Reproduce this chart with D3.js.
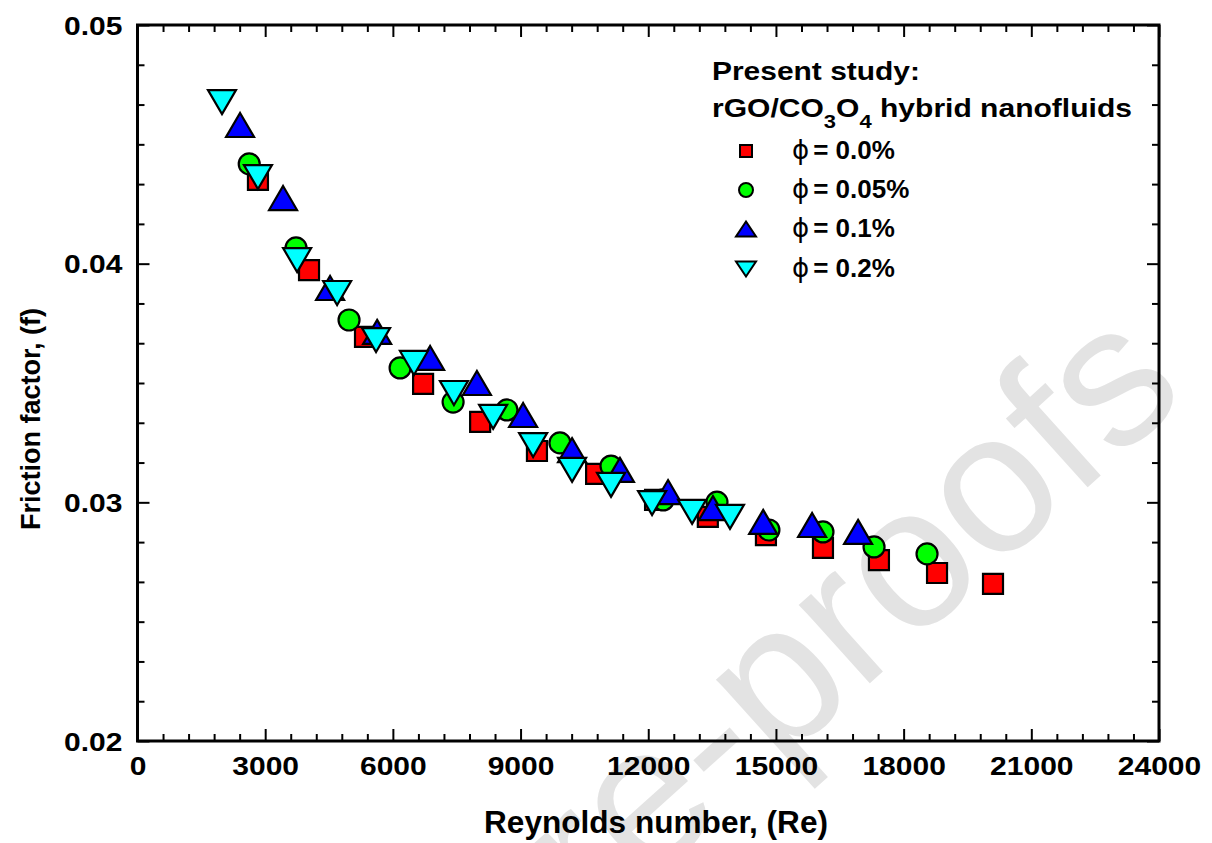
<!DOCTYPE html>
<html>
<head>
<meta charset="utf-8">
<script src="https://cdn.jsdelivr.net/npm/d3@7"></script>
<style>
  html, body { margin: 0; padding: 0; background: #fff; }
  svg { display: block; }
  text { font-family: "Liberation Sans", Arial, sans-serif; font-weight: bold; fill: #000; }
</style>
</head>
<body>
<svg id="chart" width="1212" height="843"></svg>
<script>
// Axis ticks and labels
const xTickValues = [0, 3000, 6000, 9000, 12000, 15000, 18000, 21000, 24000];
const xTickLabels = ["0", "3000", "6000", "9000", "12000", "15000", "18000", "21000", "24000"];
const yTickValues = [0.02, 0.03, 0.04, 0.05];
const yTickLabels = ["0.02", "0.03", "0.04", "0.05"];

// Series: friction factor vs Reynolds number for each volume concentration
const seriesNames = ["0.0%", "0.05%", "0.1%", "0.2%"];
const re000 = [2830, 4030, 5345, 6710, 8050, 9385, 10775, 12160, 13400, 14765, 16105, 17420, 18785, 20100];
const f000  = [0.04351, 0.03973, 0.03693, 0.03496, 0.03337, 0.03215, 0.03119, 0.0301, 0.02939, 0.02863, 0.02809, 0.02758, 0.02704, 0.02658];
const re005 = [2625, 3725, 4970, 6170, 7415, 8680, 9925, 11125, 12350, 13615, 14835, 16105, 17305, 18550];
const f005  = [0.04418, 0.04066, 0.03764, 0.03563, 0.0342, 0.03387, 0.03249, 0.03152, 0.0301, 0.03001, 0.02884, 0.02876, 0.02813, 0.02784];
const re010 = [2410, 3420, 4525, 5630, 6875, 7975, 9060, 10210, 11335, 12465, 13520, 14700, 15850, 16930];
const f010  = [0.04581, 0.04275, 0.03898, 0.03714, 0.03605, 0.035, 0.03366, 0.03219, 0.03136, 0.03043, 0.02976, 0.02918, 0.02905, 0.02876];
const re020 = [1985, 2830, 3750, 4690, 5605, 6495, 7435, 8355, 9295, 10210, 11125, 12090, 13030, 13920];
const f020  = [0.04677, 0.04363, 0.04015, 0.03877, 0.0368, 0.03584, 0.03458, 0.03358, 0.0324, 0.03136, 0.03073, 0.02997, 0.0296, 0.02939];

const seriesRe = [re000, re005, re010, re020];
const seriesF = [f000, f005, f010, f020];
const seriesColors = ["#ff0000", "#00ff00", "#0000ff", "#00ffff"];
const seriesShapes = ["square", "circle", "triangleUp", "triangleDown"];

const svg = d3.select("#chart");
const plot = { left: 137.5, right: 1159, top: 25, bottom: 741 };

const x = d3.scaleLinear().domain([0, 24000]).range([plot.left, plot.right]);
const y = d3.scaleLinear().domain([0.02, 0.05]).range([plot.bottom, plot.top]);

// Faint diagonal watermark behind the chart
svg.append("text")
  .attr("transform", "translate(1190,395) rotate(-42)")
  .attr("text-anchor", "end")
  .style("font-weight", "normal")
  .style("font-size", "200px")
  .style("fill", "#e3e3e3")
  .text("Journal Pre-proofs");

// Marker path builders, each centred on its bounding box
function shapePath(shape, s) {
  if (shape === "square") {
    const h = s.sq / 2;
    return `M${-h},${-h}H${h}V${h}H${-h}Z`;
  }
  if (shape === "circle") {
    const r = s.r;
    return `M${r},0A${r},${r} 0 1,1 ${-r},0A${r},${r} 0 1,1 ${r},0Z`;
  }
  if (shape === "triangleUp") {
    return `M0,${-s.th / 2}L${s.tw / 2},${s.th / 2}L${-s.tw / 2},${s.th / 2}Z`;
  }
  return `M0,${s.th / 2}L${s.tw / 2},${-s.th / 2}L${-s.tw / 2},${-s.th / 2}Z`;
}
const dataSize = { sq: 20, r: 10.5, tw: 28, th: 24 };
const legendSize = { sq: 12, r: 7, tw: 20, th: 15 };

// Minor ticks, pointing inward on all four sides
function minorTicks(axisGen, translate, vals) {
  const g = svg.append("g").attr("transform", translate)
    .call(axisGen.tickValues(vals).tickFormat("").tickSizeInner(7).tickSizeOuter(0));
  g.select(".domain").remove();
  g.selectAll("line").attr("stroke", "#000").attr("stroke-width", 2);
}
const xMinor = d3.range(0, 24001, 600).filter(v => v % 3000 !== 0);
const yMinor = d3.range(0, 18).map(i => 0.02 + i * 0.01 / 6).filter((v, i) => i % 6 !== 0);

minorTicks(d3.axisTop(x), `translate(0,${plot.bottom})`, xMinor);
minorTicks(d3.axisBottom(x), `translate(0,${plot.top})`, xMinor);
minorTicks(d3.axisRight(y), `translate(${plot.left},0)`, yMinor);
minorTicks(d3.axisLeft(y), `translate(${plot.right},0)`, yMinor);

// Major ticks with labels (bottom and left), unlabeled on top and right
const gx = svg.append("g").attr("transform", `translate(0,${plot.bottom})`)
  .call(d3.axisTop(x).tickValues(xTickValues).tickFormat((d, i) => xTickLabels[i]).tickSizeInner(12).tickSizeOuter(0));
gx.select(".domain").remove();
gx.selectAll("line").attr("stroke", "#000").attr("stroke-width", 2);
gx.selectAll("text").attr("y", 34).attr("dy", 0).style("font-size", "25px").attr("fill", "#000");

const gxTop = svg.append("g").attr("transform", `translate(0,${plot.top})`)
  .call(d3.axisBottom(x).tickValues(xTickValues).tickFormat("").tickSizeInner(12).tickSizeOuter(0));
gxTop.select(".domain").remove();
gxTop.selectAll("line").attr("stroke", "#000").attr("stroke-width", 2);

const gy = svg.append("g").attr("transform", `translate(${plot.left},0)`)
  .call(d3.axisRight(y).tickValues(yTickValues).tickFormat((d, i) => yTickLabels[i]).tickSizeInner(12).tickSizeOuter(0));
gy.select(".domain").remove();
gy.selectAll("line").attr("stroke", "#000").attr("stroke-width", 2);
gy.selectAll("text").attr("x", -15).attr("dy", "0.36em").attr("text-anchor", "end").style("font-size", "25px").attr("fill", "#000");

const gyRight = svg.append("g").attr("transform", `translate(${plot.right},0)`)
  .call(d3.axisLeft(y).tickValues(yTickValues).tickFormat("").tickSizeInner(12).tickSizeOuter(0));
gyRight.select(".domain").remove();
gyRight.selectAll("line").attr("stroke", "#000").attr("stroke-width", 2);

// Broaden the tick numbers to their heavy, wide look
svg.selectAll("g text").each(function () {
  const t = d3.select(this);
  if (!t.text()) return;
  const len = this.getComputedTextLength();
  t.attr("textLength", len * 1.2).attr("lengthAdjust", "spacingAndGlyphs");
});

svg.append("rect")
  .attr("x", plot.left).attr("y", plot.top)
  .attr("width", plot.right - plot.left).attr("height", plot.bottom - plot.top)
  .attr("fill", "none").attr("stroke", "#000").attr("stroke-width", 3);

// Axis titles
svg.append("text")
  .attr("x", 656).attr("y", 833)
  .attr("text-anchor", "middle")
  .style("font-size", "31px")
  .attr("textLength", 344).attr("lengthAdjust", "spacingAndGlyphs")
  .text("Reynolds number, (Re)");

svg.append("text")
  .attr("transform", "translate(40,419) rotate(-90)")
  .attr("text-anchor", "middle")
  .style("font-size", "28px")
  .attr("textLength", 222).attr("lengthAdjust", "spacingAndGlyphs")
  .text("Friction factor, (f)");

// Data markers
seriesRe.forEach((reVals, si) => {
  svg.append("g").selectAll("path")
    .data(reVals.map((re, i) => [re, seriesF[si][i]]))
    .join("path")
    .attr("transform", d => `translate(${x(d[0])},${y(d[1])})`)
    .attr("d", shapePath(seriesShapes[si], dataSize))
    .attr("fill", seriesColors[si])
    .attr("stroke", "#000")
    .attr("stroke-width", 2.2)
    .attr("stroke-linejoin", "miter");
});

// Legend
const legend = svg.append("g");
legend.append("text").attr("x", 712).attr("y", 80)
  .style("font-size", "26px")
  .attr("textLength", 208).attr("lengthAdjust", "spacingAndGlyphs")
  .text("Present study:");

const line2 = legend.append("text").attr("x", 712).attr("y", 117).style("font-size", "26px");
line2.append("tspan").text("rGO/CO");
line2.append("tspan").attr("dy", 11).style("font-size", "19px").text("3");
line2.append("tspan").attr("dy", -11).text("O");
line2.append("tspan").attr("dy", 11).style("font-size", "19px").text("4");
line2.append("tspan").attr("dy", -11).text(" hybrid nanofluids");
line2.attr("textLength", 420).attr("lengthAdjust", "spacingAndGlyphs");

const legendRowY = [151, 190, 229, 269];
seriesNames.forEach((name, i) => {
  legend.append("path")
    .attr("transform", `translate(746,${legendRowY[i]})`)
    .attr("d", shapePath(seriesShapes[i], legendSize))
    .attr("fill", seriesColors[i])
    .attr("stroke", "#000")
    .attr("stroke-width", 2);
  const t = legend.append("text").attr("x", 792).attr("y", legendRowY[i] + 8).style("font-size", "26px");
  t.append("tspan").style("font-weight", "normal").style("font-family", "DejaVu Sans").text("\u03D5");
  t.append("tspan").attr("dx", 4).text("= " + name);
});
</script>
</body>
</html>
